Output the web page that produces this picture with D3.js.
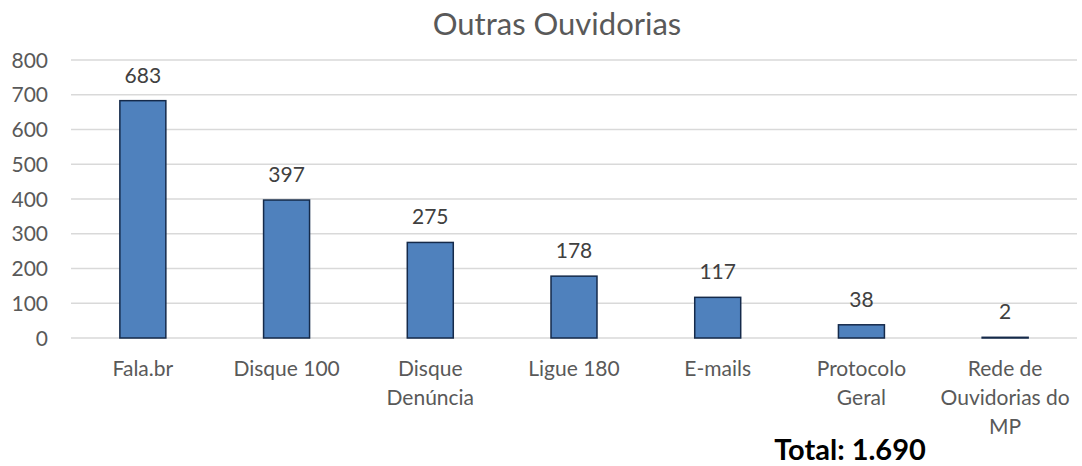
<!DOCTYPE html>
<html>
<head>
<meta charset="utf-8" />
<title>Outras Ouvidorias</title>
<style>
body { margin: 0; background: #fff; }
text { font-family: Lato, "Open Sans", sans-serif; }
</style>
</head>
<body>
<script src="https://d3js.org/d3.v7.min.js"></script>
<script>
var categorias = [["Fala.br"], ["Disque 100"], ["Disque", "Denúncia"], ["Ligue 180"], ["E-mails"], ["Protocolo", "Geral"], ["Rede de", "Ouvidorias do", "MP"]];
var valores = [683, 397, 275, 178, 117, 38, 2];
var ticks = [0, 100, 200, 300, 400, 500, 600, 700, 800];
var titulo = "Outras Ouvidorias";
var total = "Total: 1.690";

var width = 1082, height = 466;

var svg = d3.select("body").append("svg")
  .attr("width", width)
  .attr("height", height);

var x = d3.scaleBand()
  .domain(d3.range(valores.length))
  .range([71, 1077])
  .paddingInner(0.68)
  .paddingOuter(0.34);

var y = d3.scaleLinear()
  .domain([0, 800])
  .range([338, 60]);

// grid
svg.append("g").selectAll("line")
  .data(ticks)
  .join("line")
  .attr("x1", 71).attr("x2", 1077)
  .attr("y1", d => y(d)).attr("y2", d => y(d))
  .attr("stroke", "#d9d9d9")
  .attr("stroke-width", 1.3);

// y tick labels
svg.append("g").selectAll("text")
  .data(ticks)
  .join("text")
  .attr("x", 48)
  .attr("y", d => y(d))
  .attr("dy", "0.36em")
  .attr("text-anchor", "end")
  .attr("fill", "#595959")
  .style("font-size", "21px")
  .text(d => d);

// bars
svg.append("g").selectAll("rect")
  .data(valores)
  .join("rect")
  .attr("x", (d, i) => x(i))
  .attr("y", d => y(d))
  .attr("width", x.bandwidth())
  .attr("height", d => y(0) - y(d))
  .attr("fill", "#4f81bd")
  .attr("stroke", "#152a4a")
  .attr("stroke-width", 1.5);

// data labels
svg.append("g").selectAll("text")
  .data(valores)
  .join("text")
  .attr("x", (d, i) => x(i) + x.bandwidth() / 2)
  .attr("y", d => y(d) - 18)
  .attr("text-anchor", "middle")
  .attr("fill", "#404040")
  .style("font-size", "21px")
  .text(d => d);

// category labels
var cat = svg.append("g").selectAll("text")
  .data(categorias)
  .join("text")
  .attr("text-anchor", "middle")
  .attr("fill", "#595959")
  .style("font-size", "21px");

cat.selectAll("tspan")
  .data((d, i) => d.map(s => ({s: s, i: i})))
  .join("tspan")
  .attr("x", d => x(d.i) + x.bandwidth() / 2)
  .attr("y", (d, j) => 376 + j * 29)
  .text(d => d.s);

// title
svg.append("text")
  .attr("x", 557)
  .attr("y", 35)
  .attr("text-anchor", "middle")
  .attr("fill", "#595959")
  .style("font-size", "31px")
  .text(titulo);

svg.append("text")
  .attr("x", 850)
  .attr("y", 460)
  .attr("text-anchor", "middle")
  .attr("fill", "#000")
  .style("font-size", "29px")
  .style("font-weight", "bold")
  .text(total);
</script>
</body>
</html>
